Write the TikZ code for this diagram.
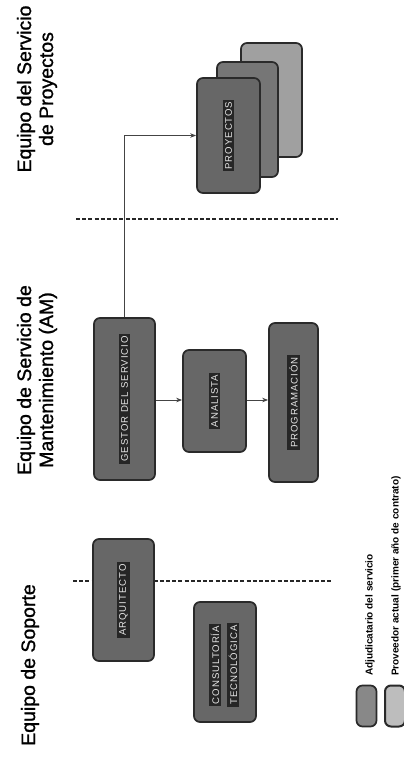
\documentclass[tikz,border=0pt]{standalone}
\usepackage{fontspec}
\setmainfont{Liberation Sans}
\newfontfamily\headfont[FakeBold=1.2]{Liberation Sans}
\usetikzlibrary{arrows.meta}
\definecolor{boxgray}{HTML}{676767}
\definecolor{boxmid}{HTML}{767676}
\definecolor{boxlight}{HTML}{A0A0A0}
\definecolor{edgegray}{HTML}{2A2A2A}
\definecolor{linegray}{HTML}{444444}
\begin{document}
\begin{tikzpicture}[x=1pt,y=-1pt,
  box/.style={draw=edgegray, line width=1.7pt, rounded corners=6pt, fill=boxgray, inner sep=0pt},
  lbl/.style={rotate=90, fill=black!85, text=white!90!black, inner sep=2pt,
    font=\fontsize{9.6}{11}\selectfont\addfontfeature{LetterSpace=10}},
  head/.style={rotate=90, align=center, font=\headfont\fontsize{19.5}{22}\selectfont, text=black},
  legtext/.style={rotate=90, anchor=west, inner sep=0pt, font=\fontsize{10}{12}\selectfont\bfseries, text=black},
  divider/.style={dashed, dash pattern=on 4pt off 2.2pt, line width=1.1pt, draw=black!85},
  conn/.style={line width=0.9pt, draw=linegray, -{Stealth[length=6pt,width=4.5pt]}},
  swatch/.style={draw=edgegray, line width=1.7pt, rounded corners=6pt, inner sep=0pt, minimum width=20pt, minimum height=41pt}
]
\useasboundingbox (0,0) rectangle (404,769);
\fill[white] (0,0) rectangle (404,769);

% headers
\node[head] (hproj) at (37,89) {Equipo del Servicio\\de Proyectos};
\node[head] (ham) at (37,380) {Equipo de Servicio de\\Mantenimiento (AM)};
\node[head] (hsop) at (30,665) {Equipo de Soporte};

% dividers
\coordinate (d1a) at (76,219);
\coordinate (d1b) at (338,219);
\coordinate (d2a) at (73,581);
\coordinate (d2b) at (333,581);
\draw[divider] (d1a) -- (d1b);
\draw[divider] (d2a) -- (d2b);

% proyectos stack
\node[box, fill=boxlight, minimum width=61pt, minimum height=114pt] (proj3) at (271.5,100) {};
\node[box, fill=boxmid, minimum width=61pt, minimum height=115pt] (proj2) at (247.5,119.5) {};
\node[box, minimum width=63pt, minimum height=115pt] (proj1) at (228.5,135.5) {};
\node[lbl] (lproj) at (proj1.center) {PROYECTOS};

% AM team
\node[box, minimum width=61pt, minimum height=162pt] (gestor) at (124.5,399) {};
\node[lbl] (lgestor) at (gestor.center) {GESTOR DEL SERVICIO};
\node[box, minimum width=63pt, minimum height=102pt] (analista) at (214.5,401) {};
\node[lbl] (lanalista) at (analista.center) {ANALISTA};
\node[box, minimum width=49pt, minimum height=159pt] (prog) at (293.5,402.5) {};
\node[lbl] (lprog) at (prog.center) {PROGRAMACIÓN};

% support team
\node[box, minimum width=61pt, minimum height=122pt] (arq) at (123.5,600) {};
\node[lbl] (larq) at (arq.center) {ARQUITECTO};
\node[box, minimum width=62pt, minimum height=120pt] (cons) at (225,662) {};
\node[lbl] (lcons1) at (215,665) {CONSULTORÍA};
\node[lbl] (lcons2) at (233,665) {TECNOLÓGICA};

% connectors
\draw[conn] (gestor.north) |- (proj1.west);
\draw[conn] (gestor.east |- 0,400) -- (analista.west |- 0,400);
\draw[conn] (analista.east |- 0,400) -- (prog.west |- 0,400);

% legend
\node[swatch, fill=boxlight!85!black] (sw1) at (366.5,706) {};
\node[swatch, fill=boxlight!70!white, line width=2pt] (sw2) at (395,706) {};
\node[legtext] (lt1) at (370,676) {Adjudicatario del servicio};
\node[legtext] (lt2) at (396,676) {Proveedor actual (primer año de contrato)};
\end{tikzpicture}
\end{document}
